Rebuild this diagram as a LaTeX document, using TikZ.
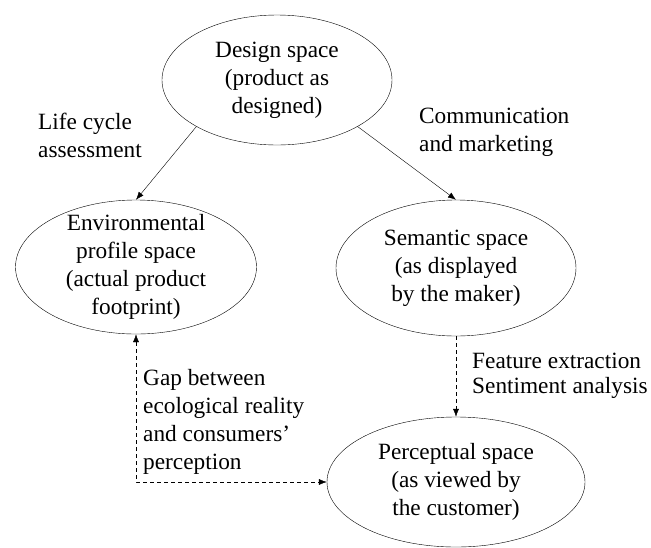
\documentclass[tikz,border=0pt]{standalone}
\usepackage{fontspec}
\setmainfont{Liberation Serif}
\usetikzlibrary{shapes.geometric,arrows.meta}
\begin{document}
\begin{tikzpicture}[x=1pt, y=-1pt,
    every node/.style={font=\fontsize{23.3}{28}\selectfont},
    space/.style={draw, ellipse, inner sep=0pt, align=center},
    note/.style={anchor=west, inner sep=0pt, align=left},
    tip/.style={-{Latex[length=8pt, width=6pt]}},
    both/.style={{Latex[length=8pt, width=6pt]}-{Latex[length=8pt, width=6pt]}},
    gap/.style={dash pattern=on 4pt off 3pt}]
  \useasboundingbox (0,0) rectangle (651,547);

  \node [space, minimum width=230pt, minimum height=130pt] (design) at (277,80) {Design space\\(product as\\designed)};
  \node [space, minimum width=241pt, minimum height=134pt, inner ysep=-8pt] (env) at (136,267) {Environmental\\profile space\\(actual product\\footprint)};
  \node [space, minimum width=240pt, minimum height=136pt] (sem) at (456,268) {Semantic space\\(as displayed\\by the maker)};
  \node [space, minimum width=258pt, minimum height=130pt] (perc) at (456,482) {Perceptual space\\(as viewed by\\the customer)};

  \node [note] (lca) at (38,135) {Life cycle\\assessment};
  \node [note] (comm) at (419,132) {Communication\\and marketing};
  \node [note, font=\fontsize{23.3}{25}\selectfont] (feat) at (472,376) {Feature extraction\\Sentiment analysis};
  \node [note] (gaptext) at (143,422) {Gap between\\ecological reality\\and consumers'\\perception};

  \draw [tip] (design.210) -- (env.north);
  \draw [tip] (design.330) -- (sem.north);
  \draw [tip, gap] (sem.south) -- (perc.north);
  \draw [both, gap] (env.south) |- (perc.west);
\end{tikzpicture}
\end{document}
